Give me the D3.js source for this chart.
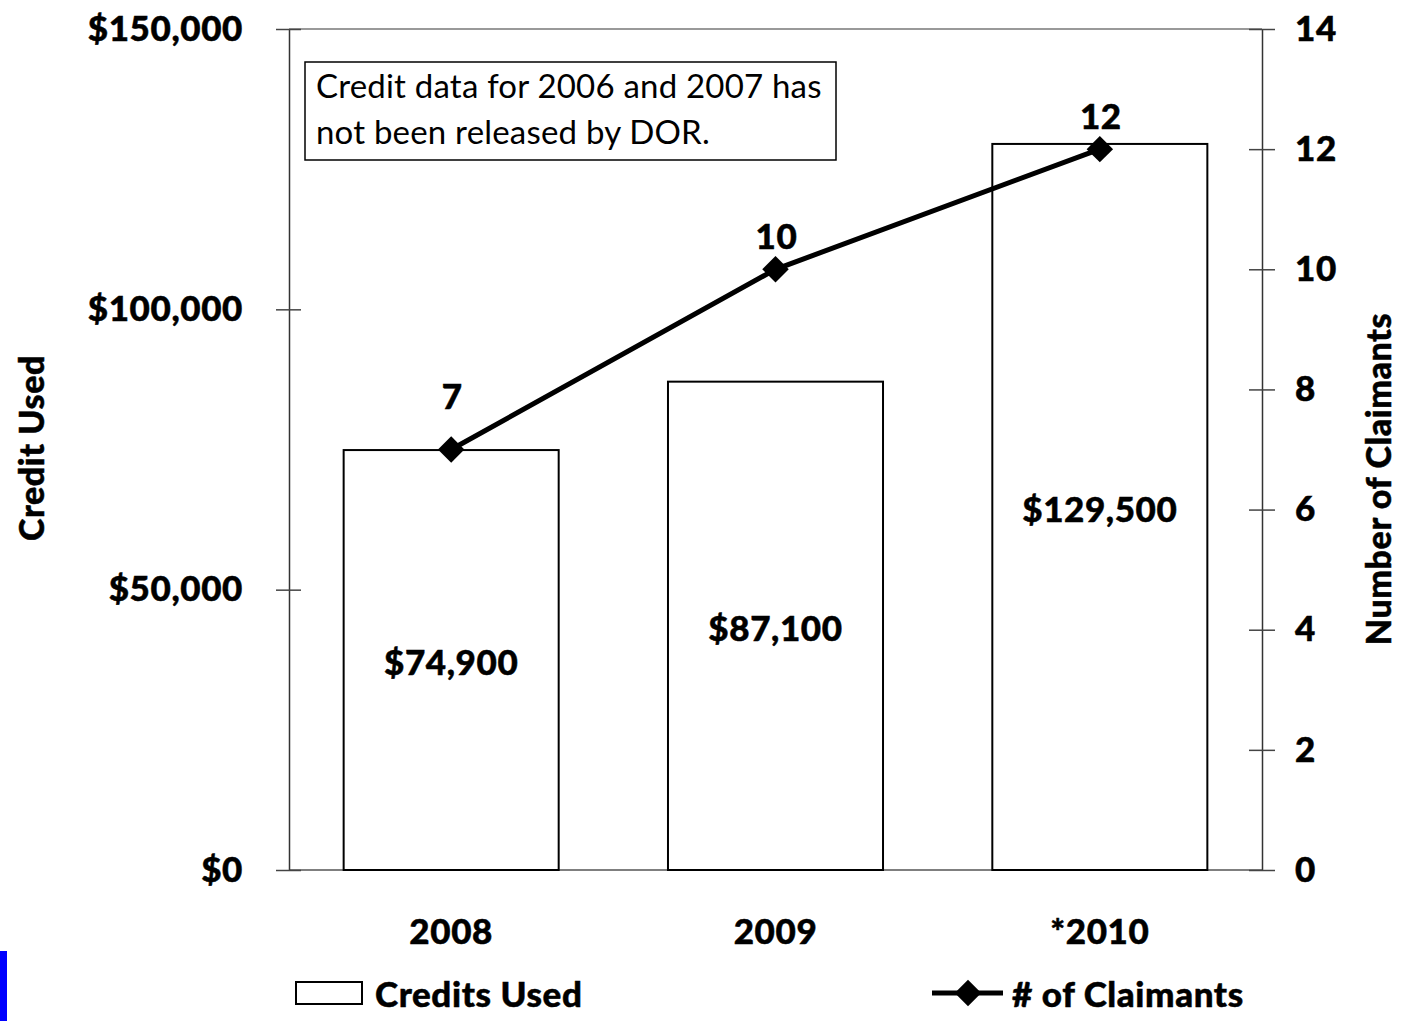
<!DOCTYPE html>
<html>
<head>
<meta charset="utf-8">
<script src="https://cdn.jsdelivr.net/npm/d3@7"></script>
<style>
  body { margin: 0; background: #fff; }
  svg { display: block; font-family: Lato, "Open Sans", sans-serif; }
  .bold { font-weight: 900; letter-spacing: 0.6px; stroke: #000; stroke-width: 0.5px; }
</style>
</head>
<body>
<div id="chart"></div>
<script>
// chart data
var years = ['2008', '2009', '*2010']
var credits = [74900, 87100, 129500]
var claimants = [7, 10, 12]
var creditTicks = [0, 50000, 100000, 150000]
var claimantTicks = [0, 2, 4, 6, 8, 10, 12, 14]
var note = ['Credit data for 2006 and 2007 has', 'not been released by DOR.']

var width = 1405, height = 1021
var plot = {left: 289, right: 1262, top: 29, bottom: 870}
var fs = 35   // bold label size

var svg = d3.select('#chart').append('svg')
    .attr('width', width)
    .attr('height', height)

var x = d3.scaleBand()
    .domain(years)
    .range([plot.left, plot.right])
    .paddingInner(0.337)
    .paddingOuter(0.1685)

var yLeft = d3.scaleLinear().domain([0, 150000]).range([plot.bottom, plot.top])
var yRight = d3.scaleLinear().domain([0, 14]).range([plot.bottom, plot.top])

var money = d3.format('$,.0f')
var cx = (d, i) => x(years[i]) + x.bandwidth() / 2

// plot frame: top edge + baseline
svg.append('line')
    .attr('x1', plot.left).attr('x2', plot.right)
    .attr('y1', plot.top).attr('y2', plot.top)
    .attr('stroke', '#777').attr('stroke-width', 1.5)
svg.append('line')
    .attr('x1', plot.left).attr('x2', plot.right)
    .attr('y1', plot.bottom).attr('y2', plot.bottom)
    .attr('stroke', '#555').attr('stroke-width', 1.5)

// left axis
var gl = svg.append('g').attr('transform', 'translate(' + plot.left + ',0)')
gl.call(d3.axisLeft(yLeft).tickValues(creditTicks).tickFormat(money).tickSize(13).tickSizeOuter(0))
gl.selectAll('.tick line').clone().attr('x2', 12)
gl.select('.domain').attr('stroke', '#333').attr('stroke-width', 1.5)
gl.selectAll('.tick line').attr('stroke', '#444').attr('stroke-width', 1.5)
gl.selectAll('.tick text')
    .attr('x', -46).attr('class', 'bold')
    .attr('font-size', fs).attr('fill', '#000')
    .attr('font-family', 'Lato, sans-serif')

// right axis
var gr = svg.append('g').attr('transform', 'translate(' + plot.right + ',0)')
gr.call(d3.axisRight(yRight).tickValues(claimantTicks).tickSize(13).tickSizeOuter(0))
gr.selectAll('.tick line').clone().attr('x2', -13)
gr.select('.domain').attr('stroke', '#333').attr('stroke-width', 1.5)
gr.selectAll('.tick line').attr('stroke', '#444').attr('stroke-width', 1.5)
gr.selectAll('.tick text')
    .attr('x', 33).attr('class', 'bold')
    .attr('font-size', fs).attr('fill', '#000')
    .attr('font-family', 'Lato, sans-serif')

// x labels
svg.append('g').selectAll('text')
    .data(years)
  .enter().append('text')
    .attr('class', 'bold')
    .attr('x', d => x(d) + x.bandwidth() / 2)
    .attr('y', 944)
    .attr('text-anchor', 'middle')
    .attr('font-size', fs)
    .text(d => d)

// bars
svg.append('g').selectAll('rect')
    .data(credits)
  .enter().append('rect')
    .attr('x', (d, i) => x(years[i]))
    .attr('y', d => yLeft(d))
    .attr('width', x.bandwidth())
    .attr('height', d => plot.bottom - yLeft(d))
    .attr('fill', '#fff')
    .attr('stroke', '#000')
    .attr('stroke-width', 2)

// bar value labels (centered in bar)
svg.append('g').selectAll('text')
    .data(credits)
  .enter().append('text')
    .attr('class', 'bold')
    .attr('x', cx)
    .attr('y', d => (yLeft(d) + plot.bottom) / 2 + 15)
    .attr('text-anchor', 'middle')
    .attr('font-size', fs)
    .text(d => money(d))

// claimant line
var line = d3.line()
    .x(cx)
    .y(d => yRight(d))

svg.append('path')
    .datum(claimants)
    .attr('d', line)
    .attr('fill', 'none')
    .attr('stroke', '#000')
    .attr('stroke-width', 5)

var diamond = d3.symbol().type(d3.symbolSquare).size(350)
svg.append('g').selectAll('path')
    .data(claimants)
  .enter().append('path')
    .attr('d', diamond)
    .attr('transform', (d, i) => 'translate(' + cx(d, i) + ',' + yRight(d) + ') rotate(45)')
    .attr('fill', '#000')

// point labels; the first one sits higher so it clears the line
svg.append('g').selectAll('text')
    .data(claimants)
  .enter().append('text')
    .attr('class', 'bold')
    .attr('x', (d, i) => cx(d, i) + 1)
    .attr('y', (d, i) => yRight(d) - (i === 0 ? 41 : 20))
    .attr('text-anchor', 'middle')
    .attr('font-size', fs)
    .text(d => d)

// note box
var noteG = svg.append('g')
noteG.append('rect')
    .attr('x', 305).attr('y', 62)
    .attr('width', 531).attr('height', 98)
    .attr('fill', '#fff').attr('stroke', '#000').attr('stroke-width', 1.5)
noteG.selectAll('text')
    .data(note)
  .enter().append('text')
    .attr('x', 316)
    .attr('y', (d, i) => 98 + i * 46)
    .attr('font-size', 33)
    .attr('letter-spacing', 0.2)
    .text(d => d)

// axis titles
svg.append('text')
    .attr('class', 'bold')
    .attr('transform', 'translate(44,448) rotate(-90)')
    .attr('text-anchor', 'middle')
    .attr('font-size', 34)
    .text('Credit Used')
svg.append('text')
    .attr('class', 'bold')
    .attr('transform', 'translate(1391,479) rotate(-90)')
    .attr('text-anchor', 'middle')
    .attr('font-size', 34)
    .text('Number of Claimants')

// legend
var lg = svg.append('g')
lg.append('rect')
    .attr('x', 296).attr('y', 982).attr('width', 66).attr('height', 22)
    .attr('fill', '#fff').attr('stroke', '#000').attr('stroke-width', 2)
lg.append('text')
    .attr('class', 'bold')
    .attr('x', 375).attr('y', 1007)
    .attr('font-size', fs)
    .text('Credits Used')
lg.append('line')
    .attr('x1', 932).attr('x2', 1003).attr('y1', 993).attr('y2', 993)
    .attr('stroke', '#000').attr('stroke-width', 5)
lg.append('path')
    .attr('d', diamond)
    .attr('transform', 'translate(968,993) rotate(45)')
lg.append('text')
    .attr('class', 'bold')
    .attr('x', 1012).attr('y', 1007)
    .attr('font-size', fs)
    .text('# of Claimants')

// blue marker at the bottom left edge
svg.append('rect')
    .attr('x', 0).attr('y', 951).attr('width', 7).attr('height', 70)
    .attr('fill', '#0000ff')
</script>
</body>
</html>
